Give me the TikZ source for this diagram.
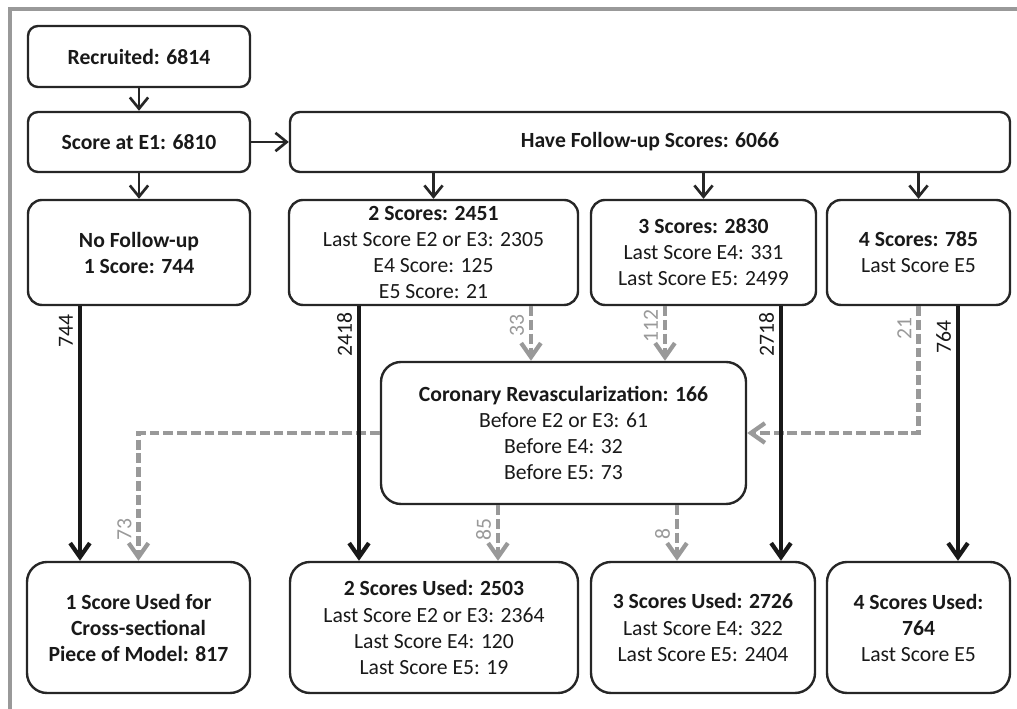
\documentclass[tikz,border=0pt]{standalone}
\usepackage{fontspec}
\setmainfont{Carlito}
\usetikzlibrary{arrows.meta}

\begin{document}
\begin{tikzpicture}[
    box/.style={draw=black!85, line width=1.7pt, rounded corners=#1, align=center,
        inner sep=0pt, text=black!90, font=\fontsize{15.4}{18.5}\selectfont},
    box/.default=0.25cm,
    flow/.style={draw=black!85, line width=1.9pt, -{Straight Barb[length=8pt,width=13pt]}},
    main/.style={draw=black!90, line width=3pt, -{Straight Barb[length=10pt,width=14pt]}},
    cens/.style={draw=gray!80, line width=3pt, dash pattern=on 7pt off 2.8pt,
        -{Straight Barb[length=10pt,width=14pt]}},
    lbl/.style={rotate=90, anchor=south, inner xsep=0pt, inner ysep=3.5pt,
        font=\fontsize{15.4}{18.5}\selectfont}
]
\useasboundingbox (0,0) rectangle (25.425,17.725);
\draw[black!40, line width=2.4pt] (0.25,0)--(0.25,17.5)--(25.425,17.5);

% first rows
\node[box, minimum width=5.55cm, minimum height=1.525cm] (rec) at (3.475,16.3125) {\textbf{Recruited: 6814}};
\node[box, minimum width=5.55cm, minimum height=1.5cm] (e1) at (3.475,14.175) {\textbf{Score at E1: 6810}};
\node[box, minimum width=18cm, minimum height=1.5cm] (fu) at (16.25,14.175) {\textbf{Have Follow-up Scores: 6066}};

\node[box=0.35cm, minimum width=5.55cm, minimum height=2.625cm] (nofu) at (3.475,11.4125)
    {\textbf{No Follow-up}\\\textbf{1 Score: 744}};
\node[box=0.35cm, minimum width=7.225cm, minimum height=2.625cm] (two) at (10.8375,11.4125)
    {\textbf{2 Scores: 2451}\\Last Score E2 or E3: 2305\\E4 Score: 125\\E5 Score: 21};
\node[box=0.35cm, minimum width=5.625cm, minimum height=2.625cm] (three) at (17.5875,11.4125)
    {\textbf{3 Scores: 2830}\\Last Score E4: 331\\Last Score E5: 2499};
\node[box=0.35cm, minimum width=4.575cm, minimum height=2.625cm] (four) at (22.9625,11.4125)
    {\textbf{4 Scores: 785}\\Last Score E5};

\node[box=0.5cm, minimum width=9.125cm, minimum height=3.55cm] (cor) at (14.0875,6.9)
    {\textbf{Coronary Revascularization: 166}\\Before E2 or E3: 61\\Before E4: 32\\Before E5: 73};

% used scores
\node[box=0.5cm, minimum width=5.575cm, minimum height=3.275cm] (one) at (3.4625,2.0375)
    {\textbf{1 Score Used for}\\\textbf{Cross-sectional}\\\textbf{Piece of Model: 817}};
\node[box=0.5cm, minimum width=7.2cm, minimum height=3.275cm] (twou) at (10.85,2.0375)
    {\textbf{2 Scores Used: 2503}\\Last Score E2 or E3: 2364\\Last Score E4: 120\\Last Score E5: 19};
\node[box=0.5cm, minimum width=5.6cm, minimum height=3.275cm] (threeu) at (17.575,2.0375)
    {\textbf{3 Scores Used: 2726}\\Last Score E4: 322\\Last Score E5: 2404};
\node[box=0.5cm, minimum width=4.575cm, minimum height=3.275cm] (fouru) at (22.9625,2.0375)
    {\textbf{4 Scores Used:}\\\textbf{764}\\Last Score E5};

\draw[flow] (rec) -- (e1);
\draw[flow] (e1) -- (fu);
\draw[flow] (e1) -- (nofu);
\foreach \t in {two,three,four}
    \draw[flow] (fu.south -| \t.north) -- (\t.north);

% revascularized
\foreach \s/\t/\x/\n/\p in {two/cor/13.275/33/0.35, three/cor/16.625/112/0.37,
        cor/twou/12.45/85/0.43, cor/threeu/16.925/8/0.51} {
    \coordinate (c) at (\x,0);
    \draw[cens] (\s.south -| c) -- (\t.north -| c) node[lbl, text=gray!80, pos=\p] {\n};
}
\draw[cens] (four.south) |- (cor.east) node[lbl, text=gray!80, pos=0.088] {21};
\draw[cens] (cor.west) -| (one.north) node[lbl, text=gray!80, pos=0.876] {73};

\foreach \s/\t/\x/\n/\p in {nofu/one/2.0/744/0.097, two/twou/8.975/2418/0.113,
        three/threeu/19.525/2718/0.113, four/fouru/23.95/764/0.12} {
    \coordinate (c) at (\x,0);
    \draw[main] (\s.south -| c) -- (\t.north -| c) node[lbl, text=black!90, pos=\p] {\n};
}
\end{tikzpicture}
\end{document}
